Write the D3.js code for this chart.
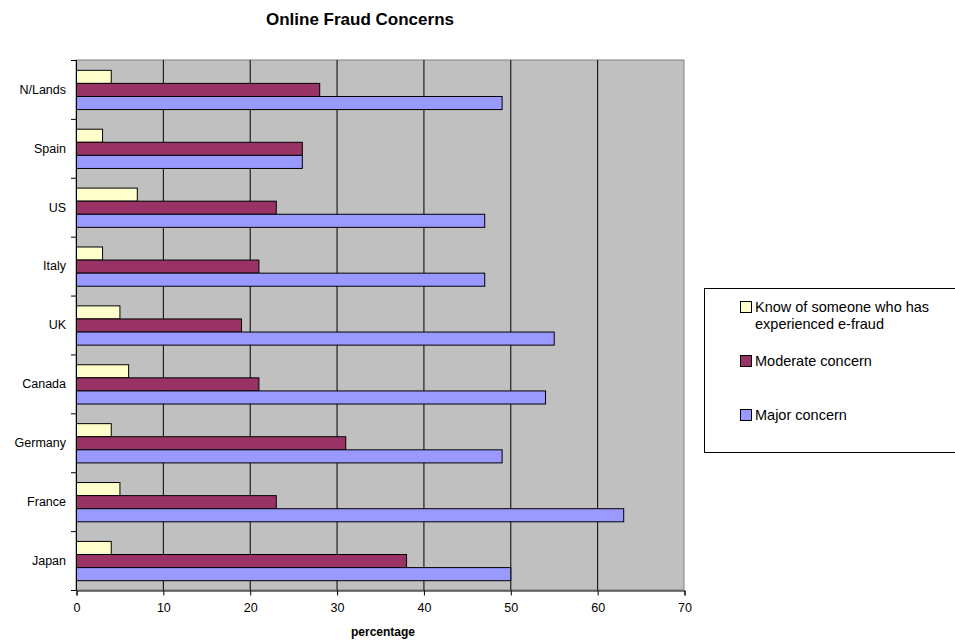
<!DOCTYPE html>
<html>
<head>
<meta charset="utf-8">
<script src="https://cdn.jsdelivr.net/npm/d3@7"></script>
<style>
  html, body { margin: 0; padding: 0; background: #fff; }
  svg { display: block; font-family: Arial, "Liberation Sans", sans-serif; }
</style>
</head>
<body>
<svg id="chart" width="955" height="643"></svg>
<script>
const categories = ["N/Lands", "Spain", "US", "Italy", "UK", "Canada", "Germany", "France", "Japan"];
const seriesNames = ["Know of someone who has experienced e-fraud", "Moderate concern", "Major concern"];
const knowSomeone = [4, 3, 7, 3, 5, 6, 4, 5, 4];
const moderateConcern = [28, 26, 23, 21, 19, 21, 31, 23, 38];
const majorConcern = [49, 26, 47, 47, 55, 54, 49, 63, 50];
const xTicks = [0, 10, 20, 30, 40, 50, 60, 70];
const seriesColors = ["#FFFFCC", "#993366", "#9999FF"];

const seriesValues = [knowSomeone, moderateConcern, majorConcern];

const svg = d3.select("#chart");
const L = 76, R = 684, T = 60, B = 590;

const x = d3.scaleLinear().domain([0, 70]).range([L, R]);
const y = d3.scaleBand().domain(categories).range([T, B]).padding(0);
const ySub = d3.scaleBand().domain(d3.range(seriesNames.length))
  .range([0, y.bandwidth()]).paddingInner(0).paddingOuter(0.75);

// plot background
svg.append("rect").attr("x", L).attr("y", T).attr("width", R - L).attr("height", B - T)
  .attr("fill", "#C0C0C0").attr("stroke", "#808080").attr("stroke-width", 1);

// gridlines
svg.append("g").selectAll("line").data(xTicks.filter(t => t > 0 && t < 70)).join("line")
  .attr("x1", d => x(d) + 0.5).attr("x2", d => x(d) + 0.5)
  .attr("y1", T).attr("y2", B).attr("stroke", "#000").attr("stroke-width", 1);

// bars
const groups = svg.append("g").selectAll("g").data(categories).join("g")
  .attr("transform", c => `translate(0,${y(c)})`);
groups.each(function(c, ci) {
  d3.select(this).selectAll("rect").data(seriesValues.map((s, si) => ({ si, v: s[ci] }))).join("rect")
    .attr("x", x(0) + 0.5)
    .attr("y", d => ySub(d.si) + 0.5)
    .attr("width", d => x(d.v) - x(0))
    .attr("height", ySub.bandwidth())
    .attr("fill", d => seriesColors[d.si])
    .attr("stroke", "#000").attr("stroke-width", 1);
});

// x axis
const xAxis = d3.axisBottom(x).tickValues(xTicks).tickSize(5).tickPadding(8).tickFormat(d3.format("d"));
const gx = svg.append("g").attr("transform", `translate(0.5,${B + 0.5})`).call(xAxis);
gx.select(".domain").attr("stroke", "#000");
gx.selectAll(".tick line").attr("stroke", "#000");
gx.selectAll("text").attr("font-size", "12.5px").attr("fill", "#000").attr("font-family", "Arial, 'Liberation Sans', sans-serif");

// y axis line + ticks at band boundaries
svg.append("line").attr("x1", L + 0.5).attr("x2", L + 0.5).attr("y1", T).attr("y2", B + 0.5).attr("stroke", "#000");
const bounds = categories.map(c => y(c)).concat([B]);
svg.append("g").selectAll("line").data(bounds).join("line")
  .attr("x1", L - 5).attr("x2", L).attr("y1", d => d + 0.5).attr("y2", d => d + 0.5).attr("stroke", "#000");
svg.append("g").selectAll("text").data(categories).join("text")
  .attr("x", L - 10).attr("y", c => y(c) + y.bandwidth() / 2)
  .attr("dy", "0.35em").attr("text-anchor", "end")
  .attr("font-size", "12.5px").attr("fill", "#000").text(c => c);

// titles
svg.append("text").attr("x", 360).attr("y", 25).attr("text-anchor", "middle")
  .attr("font-size", "17px").attr("font-weight", "bold").text("Online Fraud Concerns");
svg.append("text").attr("x", 383).attr("y", 636).attr("text-anchor", "middle")
  .attr("font-size", "12px").attr("font-weight", "bold").text("percentage");

// legend
const lg = svg.append("g");
lg.append("rect").attr("x", 704.5).attr("y", 288.5).attr("width", 270).attr("height", 164)
  .attr("fill", "#fff").attr("stroke", "#000").attr("stroke-width", 1);
const legendY = [307, 361, 415];
const legendLines = [["Know of someone who has", "experienced e-fraud"], ["Moderate concern"], ["Major concern"]];
legendLines.forEach((lines, i) => {
  lg.append("rect").attr("x", 740.5).attr("y", legendY[i] - 5.5).attr("width", 11).attr("height", 11)
    .attr("fill", seriesColors[i]).attr("stroke", "#000").attr("stroke-width", 1);
  const t = lg.append("text").attr("x", 755).attr("y", legendY[i] + 5).attr("font-size", "14.5px").attr("fill", "#000");
  lines.forEach((ln, k) => {
    t.append("tspan").attr("x", 755).attr("dy", k === 0 ? 0 : 17).text(ln);
  });
});
</script>
</body>
</html>
